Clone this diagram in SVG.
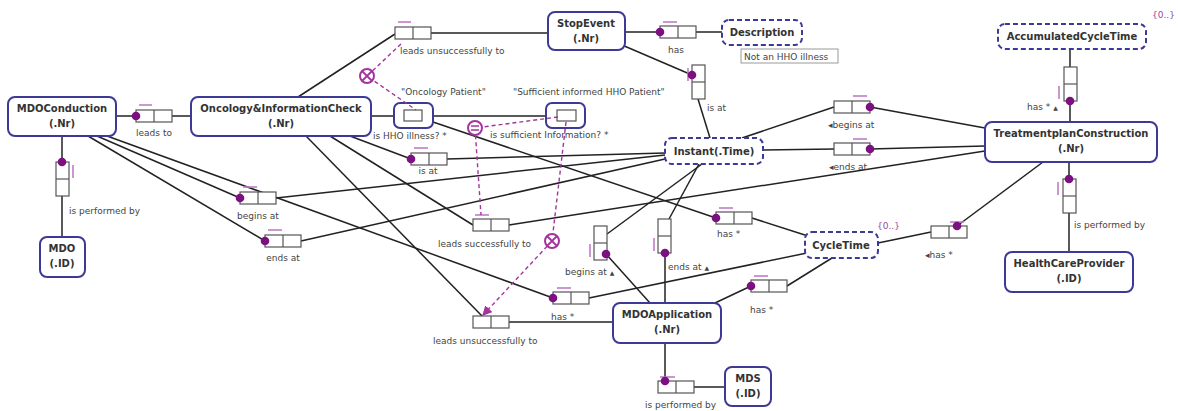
<svg xmlns="http://www.w3.org/2000/svg" xmlns:xlink="http://www.w3.org/1999/xlink" width="1178" height="411" viewBox="0 0 1178 411">
  <style>
    .ent { fill: #fff; stroke: #3d3a96; stroke-width: 2; }
    .val { fill: #fff; stroke: #3d3a96; stroke-width: 2; stroke-dasharray: 5 3; }
    .obj { fill: #fff; stroke: #3d3a96; stroke-width: 2; }
    .role { fill: #fff; stroke: #555; stroke-width: 1.2; }
    .uc { stroke: #c07cc8; stroke-width: 1.6; fill: none; }
    .dot { fill: #7d1080; }
    .con { stroke: #222; stroke-width: 1.5; fill: none; }
    .xc { stroke: #a4339f; stroke-width: 2; fill: #fff; }
    .dash { stroke: #a4339f; stroke-width: 1.4; stroke-dasharray: 4 3; fill: none; }
    .name { font-family: "DejaVu Sans", sans-serif; font-weight: bold; font-size: 10px; fill: #333; text-anchor: middle; }
    .lbl { font-family: "DejaVu Sans", sans-serif; font-size: 9px; fill: #444; }
    .mid { text-anchor: middle; }
    .card { font-family: "DejaVu Sans", sans-serif; font-size: 9px; fill: #9a4aa0; }
    .tri { font-size: 6px; }
  </style>
  <defs>
    <!-- binary fact type, horizontal and vertical -->
    <g id="fh">
      <rect class="role" x="0" y="0" width="36" height="12"/>
      <line class="role" x1="18" y1="0" x2="18" y2="12"/>
    </g>
    <g id="fv">
      <rect class="role" x="0" y="0" width="13" height="34"/>
      <line class="role" x1="0" y1="17" x2="13" y2="17"/>
    </g>
    <marker id="arr" viewBox="0 0 8 8" refX="7" refY="4" markerWidth="7" markerHeight="7" orient="auto">
      <path d="M0,0 L8,4 L0,8 z" fill="#a4339f"/>
    </marker>
  </defs>
  <rect width="1178" height="411" fill="#fff"/>

  <!-- role connectors -->
  <g id="connectors">
    <line class="con" x1="116" y1="116" x2="136" y2="116"/>
    <line class="con" x1="172" y1="116" x2="191" y2="116"/>
    <line class="con" x1="298" y1="97" x2="395" y2="34"/>
    <line class="con" x1="431" y1="33" x2="548" y2="33"/>
    <line class="con" x1="371" y1="116" x2="546" y2="116"/>
    <line class="con" x1="433" y1="122" x2="716" y2="218"/>
    <line class="con" x1="350" y1="136" x2="411" y2="159"/>
    <line class="con" x1="447" y1="159" x2="665" y2="153"/>
    <line class="con" x1="330" y1="136" x2="473" y2="225"/>
    <line class="con" x1="509" y1="225" x2="985" y2="151"/>
    <line class="con" x1="306" y1="136" x2="482" y2="316"/>
    <line class="con" x1="509" y1="322" x2="613" y2="322"/>
    <line class="con" x1="62" y1="136" x2="62" y2="162"/>
    <line class="con" x1="62" y1="196" x2="62" y2="237"/>
    <line class="con" x1="97" y1="136" x2="240" y2="198"/>
    <line class="con" x1="88" y1="136" x2="265" y2="241"/>
    <line class="con" x1="107" y1="136" x2="553" y2="298"/>
    <line class="con" x1="276" y1="198" x2="665" y2="155"/>
    <line class="con" x1="301" y1="241" x2="665" y2="159"/>
    <line class="con" x1="589" y1="298" x2="807" y2="253"/>
    <line class="con" x1="702" y1="164" x2="607" y2="234"/>
    <line class="con" x1="606" y1="254" x2="650" y2="303"/>
    <line class="con" x1="699" y1="164" x2="669" y2="219"/>
    <line class="con" x1="665" y1="253" x2="665" y2="303"/>
    <line class="con" x1="622" y1="45" x2="692" y2="75"/>
    <line class="con" x1="698" y1="99" x2="710" y2="138"/>
    <line class="con" x1="625" y1="32" x2="660" y2="32"/>
    <line class="con" x1="696" y1="32" x2="722" y2="32"/>
    <line class="con" x1="742" y1="138" x2="834" y2="107"/>
    <line class="con" x1="870" y1="107" x2="985" y2="128"/>
    <line class="con" x1="763" y1="150" x2="834" y2="149"/>
    <line class="con" x1="870" y1="149" x2="985" y2="146"/>
    <line class="con" x1="752" y1="218" x2="808" y2="236"/>
    <line class="con" x1="878" y1="243" x2="931" y2="232"/>
    <line class="con" x1="957" y1="226" x2="1043" y2="162"/>
    <line class="con" x1="1070" y1="49" x2="1070" y2="67"/>
    <line class="con" x1="1070" y1="101" x2="1070" y2="122"/>
    <line class="con" x1="1069" y1="162" x2="1069" y2="179"/>
    <line class="con" x1="1069" y1="213" x2="1069" y2="252"/>
    <line class="con" x1="715" y1="303" x2="751" y2="286"/>
    <line class="con" x1="787" y1="286" x2="832" y2="258"/>
    <line class="con" x1="665" y1="343" x2="665" y2="381"/>
    <line class="con" x1="694" y1="387" x2="725" y2="387"/>
  </g>

  <!-- entity types -->
  <g id="MDOConduction">
    <rect class="ent" x="8" y="97" width="108" height="39" rx="7"/>
    <text class="name" x="62" y="112">MDOConduction</text>
    <text class="name" x="62" y="127">(.Nr)</text>
  </g>
  <g id="OncologyInformationCheck">
    <rect class="ent" x="191" y="97" width="180" height="39" rx="7"/>
    <text class="name" x="281" y="112">Oncology&amp;InformationCheck</text>
    <text class="name" x="281" y="127">(.Nr)</text>
  </g>
  <g id="StopEvent">
    <rect class="ent" x="548" y="12" width="77" height="38" rx="7"/>
    <text class="name" x="586" y="27">StopEvent</text>
    <text class="name" x="586" y="42">(.Nr)</text>
  </g>
  <g id="Description">
    <rect class="val" x="722" y="20" width="80" height="25" rx="7"/>
    <text class="name" x="762" y="36">Description</text>
    <rect x="741" y="49" width="97" height="14" fill="#fff" stroke="#9a9a9a" stroke-width="1"/>
    <text class="lbl" x="744" y="60">Not an HHO illness</text>
  </g>
  <g id="AccumulatedCycleTime">
    <rect class="val" x="998" y="24" width="148" height="25" rx="7"/>
    <text class="name" x="1072" y="40">AccumulatedCycleTime</text>
    <text class="card" x="1152" y="18">{0..}</text>
  </g>
  <g id="TreatmentplanConstruction">
    <rect class="ent" x="985" y="122" width="172" height="40" rx="7"/>
    <text class="name" x="1071" y="137">TreatmentplanConstruction</text>
    <text class="name" x="1071" y="152">(.Nr)</text>
  </g>
  <g id="HealthCareProvider">
    <rect class="ent" x="1005" y="252" width="128" height="40" rx="7"/>
    <text class="name" x="1069" y="267">HealthCareProvider</text>
    <text class="name" x="1069" y="282">(.ID)</text>
  </g>
  <g id="Instant">
    <rect class="val" x="665" y="138" width="98" height="26" rx="7"/>
    <text class="name" x="714" y="155">Instant(.Time)</text>
  </g>
  <g id="CycleTime">
    <rect class="val" x="805" y="232" width="73" height="26" rx="7"/>
    <text class="name" x="841" y="249">CycleTime</text>
    <text class="card" x="877" y="229">{0..}</text>
  </g>
  <g id="MDOApplication">
    <rect class="ent" x="613" y="303" width="108" height="40" rx="7"/>
    <text class="name" x="667" y="318">MDOApplication</text>
    <text class="name" x="667" y="333">(.Nr)</text>
  </g>
  <g id="MDS">
    <rect class="ent" x="725" y="367" width="46" height="39" rx="7"/>
    <text class="name" x="748" y="382">MDS</text>
    <text class="name" x="748" y="397">(.ID)</text>
  </g>
  <g id="MDO">
    <rect class="ent" x="40" y="237" width="45" height="40" rx="7"/>
    <text class="name" x="62" y="252">MDO</text>
    <text class="name" x="62" y="267">(.ID)</text>
  </g>

  <!-- objectified unary fact types -->
  <g id="OncologyPatient">
    <rect class="obj" x="394" y="103" width="39" height="25" rx="6"/>
    <rect class="role" x="404" y="110" width="18" height="11"/>
    <text class="lbl" x="401" y="95">"Oncology Patient"</text>
    <text class="lbl" x="373" y="139">is HHO illness? *</text>
  </g>
  <g id="SufficientInformedPatient">
    <rect class="obj" x="546" y="103" width="39" height="25" rx="6"/>
    <rect class="role" x="557" y="110" width="19" height="11"/>
    <text class="lbl" x="513" y="95">"Sufficient informed HHO Patient"</text>
    <text class="lbl" x="490" y="138">is sufficient Information? *</text>
  </g>

  <!-- binary fact types -->
  <g id="ft-leads-to">
    <use xlink:href="#fh" x="136" y="110"/>
    <line class="uc" x1="139" y1="105" x2="152" y2="105"/>
    <circle class="dot" cx="136" cy="116" r="4.3"/>
    <text class="lbl mid" x="154" y="136">leads to</text>
  </g>
  <g id="ft-leads-unsuccessfully-stop">
    <use xlink:href="#fh" x="395" y="27"/>
    <line class="uc" x1="398" y1="22" x2="411" y2="22"/>
    <text class="lbl" x="400" y="54">leads unsuccessfully to</text>
  </g>
  <g id="ft-is-at-check">
    <use xlink:href="#fh" x="411" y="153"/>
    <line class="uc" x1="414" y1="148" x2="428" y2="148"/>
    <circle class="dot" cx="411" cy="159" r="4.3"/>
    <text class="lbl mid" x="428" y="174">is at</text>
  </g>
  <g id="ft-leads-successfully">
    <use xlink:href="#fh" x="473" y="219"/>
    <line class="uc" x1="475" y1="215" x2="489" y2="215"/>
    <text class="lbl" x="438" y="247">leads successfully to</text>
  </g>
  <g id="ft-leads-unsuccessfully-app">
    <use xlink:href="#fh" x="473" y="316"/>
    <text class="lbl" x="433" y="344">leads unsuccessfully to</text>
  </g>
  <g id="ft-has-cycle-conduction">
    <use xlink:href="#fh" x="553" y="292"/>
    <line class="uc" x1="557" y1="288" x2="571" y2="288"/>
    <circle class="dot" cx="553" cy="298" r="4.3"/>
    <text class="lbl" x="551" y="320">has *</text>
  </g>
  <g id="ft-begins-at-conduction">
    <use xlink:href="#fh" x="240" y="192"/>
    <line class="uc" x1="243" y1="187" x2="257" y2="187"/>
    <circle class="dot" cx="240" cy="198" r="4.3"/>
    <text class="lbl mid" x="258" y="219">begins at</text>
  </g>
  <g id="ft-ends-at-conduction">
    <use xlink:href="#fh" x="265" y="235"/>
    <line class="uc" x1="268" y1="230" x2="282" y2="230"/>
    <circle class="dot" cx="265" cy="241" r="4.3"/>
    <text class="lbl mid" x="283" y="261">ends at</text>
  </g>
  <g id="ft-begins-at-application">
    <use xlink:href="#fv" x="594" y="226"/>
    <line class="uc" x1="590" y1="244" x2="590" y2="257"/>
    <circle class="dot" cx="606" cy="254" r="4.3"/>
    <text class="lbl" x="565" y="275">begins at <tspan class="tri">▲</tspan></text>
  </g>
  <g id="ft-ends-at-application">
    <use xlink:href="#fv" x="658" y="219"/>
    <line class="uc" x1="654" y1="238" x2="654" y2="251"/>
    <circle class="dot" cx="665" cy="253" r="4.3"/>
    <text class="lbl" x="668" y="270">ends at <tspan class="tri">▲</tspan></text>
  </g>
  <g id="ft-has-cycle-check">
    <use xlink:href="#fh" x="716" y="212"/>
    <line class="uc" x1="719" y1="208" x2="733" y2="208"/>
    <circle class="dot" cx="716" cy="218" r="4.3"/>
    <text class="lbl" x="717" y="237">has *</text>
  </g>
  <g id="ft-begins-at-plan">
    <use xlink:href="#fh" x="834" y="101"/>
    <line class="uc" x1="853" y1="96" x2="867" y2="96"/>
    <circle class="dot" cx="870" cy="107" r="4.3"/>
    <text class="lbl" x="828" y="128">◂begins at</text>
  </g>
  <g id="ft-ends-at-plan">
    <use xlink:href="#fh" x="834" y="143"/>
    <line class="uc" x1="853" y1="139" x2="867" y2="139"/>
    <circle class="dot" cx="870" cy="149" r="4.3"/>
    <text class="lbl" x="829" y="170">◂ends at</text>
  </g>
  <g id="ft-has-cycle-plan">
    <use xlink:href="#fh" x="931" y="226"/>
    <line class="uc" x1="950" y1="222" x2="964" y2="222"/>
    <circle class="dot" cx="957" cy="226" r="4.3"/>
    <text class="lbl" x="925" y="258">◂has *</text>
  </g>
  <g id="ft-has-accumulated">
    <use xlink:href="#fv" x="1064" y="67"/>
    <line class="uc" x1="1059" y1="86" x2="1059" y2="99"/>
    <circle class="dot" cx="1070" cy="101" r="4.3"/>
    <text class="lbl" x="1027" y="110">has * <tspan class="tri">▲</tspan></text>
  </g>
  <g id="ft-performed-plan">
    <use xlink:href="#fv" x="1063" y="179"/>
    <line class="uc" x1="1058" y1="182" x2="1058" y2="195"/>
    <circle class="dot" cx="1069" cy="179" r="4.3"/>
    <text class="lbl" x="1074" y="228">is performed by</text>
  </g>
  <g id="ft-performed-conduction">
    <use xlink:href="#fv" x="56" y="162"/>
    <line class="uc" x1="73" y1="165" x2="73" y2="178"/>
    <circle class="dot" cx="62" cy="162" r="4.3"/>
    <text class="lbl" x="69" y="214">is performed by</text>
  </g>
  <g id="ft-performed-application">
    <use xlink:href="#fh" x="658" y="381"/>
    <line class="uc" x1="660" y1="377" x2="675" y2="377"/>
    <circle class="dot" cx="665" cy="381" r="4.3"/>
    <text class="lbl" x="645" y="408">is performed by</text>
  </g>
  <g id="ft-has-description">
    <use xlink:href="#fh" x="660" y="26"/>
    <line class="uc" x1="663" y1="22" x2="677" y2="22"/>
    <circle class="dot" cx="660" cy="32" r="4.3"/>
    <text class="lbl" x="668" y="53">has</text>
  </g>
  <g id="ft-is-at-stop">
    <use xlink:href="#fv" x="692" y="65"/>
    <line class="uc" x1="688" y1="68" x2="688" y2="81"/>
    <circle class="dot" cx="692" cy="75" r="4.3"/>
    <text class="lbl" x="707" y="111">is at</text>
  </g>
  <g id="ft-has-cycle-application">
    <use xlink:href="#fh" x="751" y="280"/>
    <line class="uc" x1="754" y1="276" x2="768" y2="276"/>
    <circle class="dot" cx="751" cy="286" r="4.3"/>
    <text class="lbl" x="750" y="313">has *</text>
  </g>

  <!-- set-comparison constraints -->
  <g id="constraints">
    <polyline class="dash" points="401,44 367,76 416,110"/>
    <polyline class="dash" points="558,117 475,128 481,215"/>
    <line class="dash" x1="566" y1="122" x2="552" y2="241"/>
    <line class="dash" x1="552" y1="241" x2="483" y2="315" marker-end="url(#arr)"/>
    <g id="exclusion-top">
      <circle class="xc" cx="367" cy="76" r="7"/>
      <path d="M362,71 L372,81 M372,71 L362,81" stroke="#a4339f" stroke-width="1.8"/>
    </g>
    <g id="equality">
      <circle class="xc" cx="475" cy="128" r="7"/>
      <path d="M471,126 L479,126 M471,130 L479,130" stroke="#a4339f" stroke-width="1.6"/>
    </g>
    <g id="exclusion-bottom">
      <circle class="xc" cx="552" cy="241" r="7"/>
      <path d="M547,236 L557,246 M557,236 L547,246" stroke="#a4339f" stroke-width="1.8"/>
    </g>
  </g>
</svg>
